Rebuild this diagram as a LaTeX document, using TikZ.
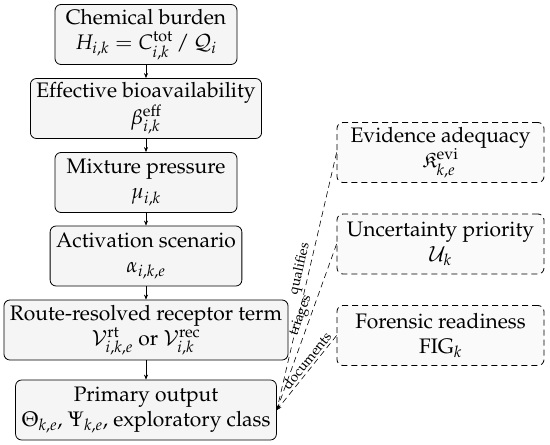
\documentclass[tikz,border=0pt]{standalone}
\usepackage[T1]{fontenc}
\usepackage{mathpazo}
\usepackage{amssymb}
\usetikzlibrary{arrows.meta}
\begin{document}
\begin{tikzpicture}[x=1pt,y=-1pt,
  box/.style={draw, rounded corners=6pt, fill=gray!8, align=center,
    font=\fontsize{21}{25}\selectfont, line width=0.8pt,
    inner xsep=6pt, inner ysep=3pt, minimum height=60pt},
  mainbox/.style={box, minimum width=182pt},
  sidebox/.style={box, dash pattern=on 6pt off 4pt, fill=gray!4, minimum width=207pt},
  flow/.style={-{Stealth[length=5pt,width=4pt]}, line width=0.6pt},
  link/.style={flow, dash pattern=on 6pt off 4pt},
  lab/.style={font=\fontsize{14}{16}\selectfont, sloped, above, inner sep=2pt}]
\useasboundingbox (0,0) rectangle (550,445);
\node[mainbox] (b1) at (146,34.5) {Chemical burden\\ $H_{i,k} = C^{\mathrm{tot}}_{i,k}\,/\,\mathcal{Q}_i$};
\node[mainbox] (b2) at (146,108.5) {Effective bioavailability\\ $\beta^{\mathrm{eff}}_{i,k}$};
\node[mainbox] (b3) at (146,182.5) {Mixture pressure\\ $\mu_{i,k}$};
\node[mainbox] (b4) at (146,256) {Activation scenario\\ $\alpha_{i,k,e}$};
\node[mainbox] (b5) at (146,330) {Route-resolved receptor term\\ $\mathcal{V}^{\mathrm{rt}}_{i,k,e}$ or $\mathcal{V}^{\mathrm{rec}}_{i,k}$};
\node[mainbox] (b6) at (146,410) {Primary output\\ $\Theta_{k,e}$, $\Psi_{k,e}$, exploratory class};
\node[sidebox] (r1) at (440.5,152.5) {Evidence adequacy\\ $\mathfrak{K}^{\mathrm{evi}}_{k,e}$};
\node[sidebox] (r2) at (440.5,244) {Uncertainty priority\\ $\mathcal{U}_k$};
\node[sidebox] (r3) at (440.5,335.5) {Forensic readiness\\ FIG$_k$};
\draw[flow] (b1) -- (b2);
\draw[flow] (b2) -- (b3);
\draw[flow] (b3) -- (b4);
\draw[flow] (b4) -- (b5);
\draw[flow] (b5) -- (b6);
\draw[link] (r1.west) -- node[lab, pos=0.46] {qualifies} (b6.east);
\draw[link] (r2.west) -- node[lab, pos=0.45] {triages} (b6.east);
\draw[link] (r3.west) -- node[lab, pos=0.4] {documents} (b6.east);
\end{tikzpicture}
\end{document}
